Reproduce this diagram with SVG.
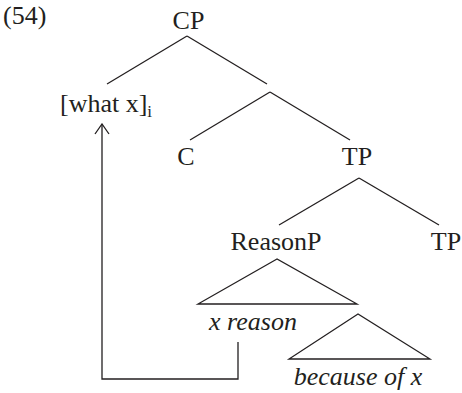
<svg xmlns="http://www.w3.org/2000/svg" width="462" height="393" viewBox="0 0 462 393">
<style>
text{font-family:"Liberation Serif","Times New Roman",serif;font-size:26px;fill:#231f20}
.m{text-anchor:middle}
.it{font-style:italic}
.ln{stroke:#231f20;stroke-width:1.3;fill:none}
</style>
<defs>
<marker id="ah" markerWidth="12" markerHeight="16" refX="11" refY="8" orient="auto" markerUnits="userSpaceOnUse" viewBox="0 0 12 16">
<path d="M1,1 L11,8 L1,15" fill="none" stroke="#231f20" stroke-width="1.3"/>
</marker>
</defs>
<rect width="462" height="393" fill="#fff"/>
<text id="label" x="3" y="24">(54)</text>
<g id="connectors">
<line class="ln" x1="187" y1="36" x2="107" y2="84"/>
<line class="ln" x1="187" y1="36" x2="267" y2="84"/>
<line class="ln" x1="270" y1="92" x2="190" y2="140"/>
<line class="ln" x1="270" y1="92" x2="350" y2="140"/>
<line class="ln" x1="359" y1="178" x2="279" y2="225"/>
<line class="ln" x1="359" y1="178" x2="439" y2="225"/>
<path class="ln" d="M238,342 V379 H102 V124" marker-end="url(#ah)"/>
</g>
<g id="cp"><text class="m" x="188.5" y="29">CP</text></g>
<g id="whatx"><text x="60" y="112">[what x]<tspan font-size="17" dy="5">i</tspan></text></g>
<g id="c"><text class="m" x="186" y="165">C</text></g>
<g id="tp1"><text class="m" x="357" y="165">TP</text></g>
<g id="reasonp"><text class="m" x="276" y="250">ReasonP</text></g>
<g id="tp2"><text class="m" x="446" y="250">TP</text></g>
<g id="tri1"><polygon class="ln" points="277,259 198,304 357,304"/><text class="m it" x="253" y="330">x reason</text></g>
<g id="tri2"><polygon class="ln" points="358,314 289,359 430,359"/><text class="m it" x="358" y="385">because of x</text></g>
</svg>
